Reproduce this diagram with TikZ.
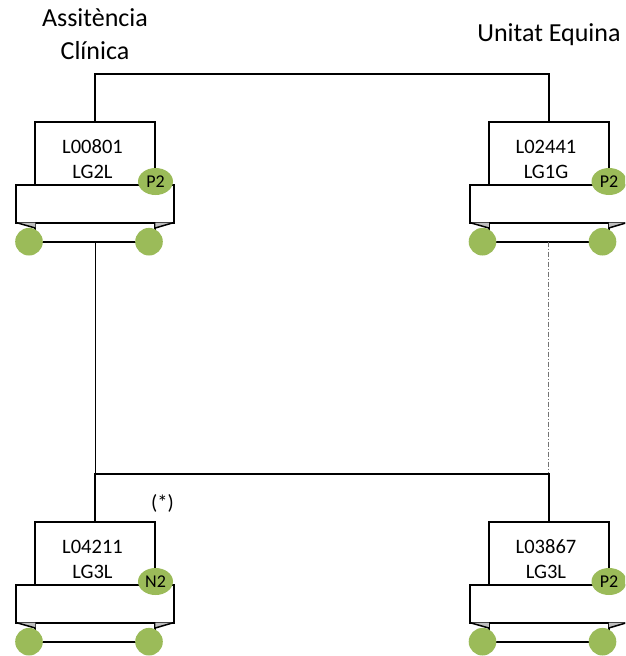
\documentclass[tikz,border=0pt]{standalone}
\usepackage{fontspec}
\setmainfont{Carlito}
\usetikzlibrary{shapes.geometric}
\definecolor{wheelgreen}{RGB}{155,187,89}
\definecolor{bevelgray}{RGB}{190,190,190}
\tikzset{
  boxline/.style={draw=black, line width=2pt, fill=white, rectangle, inner sep=0pt, outer sep=0pt},
  upperbox/.style={boxline, minimum width=120pt, minimum height=63pt},
  widebox/.style={boxline, minimum width=158pt, minimum height=37.5pt},
  lowerbox/.style={boxline, minimum width=120pt, minimum height=19.2pt},
  bevel/.style={fill=bevelgray},
  outline/.style={draw=black, line width=1.5pt},
  wheel/.style={circle, fill=wheelgreen, draw=none, minimum size=27.6pt, inner sep=0pt},
  tagmark/.style={ellipse, fill=wheelgreen, draw=none, minimum width=35pt, minimum height=27pt, inner sep=0pt, font=\fontsize{18}{20}\selectfont},
  boxtext/.style={anchor=base, inner sep=0pt, font=\fontsize{20.5}{25}\selectfont},
  titletext/.style={anchor=base, inner sep=0pt, font=\fontsize{26}{32}\selectfont},
  conn/.style={draw=black, line width=2.2pt},
  thinconn/.style={draw=black, line width=1pt},
  dashconn/.style={draw=black!55, line width=1.2pt, dash pattern=on 5pt off 2pt on 1pt off 2pt},
}
\newcommand\horsebox[6]{%
\begin{scope}[shift={(#2,#3)}]
  \node[widebox] (#1wide) at (95,203.75) {};
  \node[upperbox] (#1up) at (95.25,153.5) {};
  \node[lowerbox] (#1low) at (95.25,232.1) {};
  \fill[bevel] (16,222.5) -- (35.25,222.5) -- (35.25,228) -- cycle;
  \fill[bevel] (174,222.5) -- (155.25,222.5) -- (155.25,228) -- cycle;
  \draw[outline] (16,222.5) -- (35.25,228);
  \draw[outline] (174,222.5) -- (155.25,228);
  \node[wheel] (#1wl) at (29,241.7) {};
  \node[wheel] (#1wr) at (149,241.7) {};
  \node[tagmark] (#1tag) at (155.5,181.5) {#6};
  \node[boxtext] (#1la) at (92.5,153.3) {#4};
  \node[boxtext] (#1lb) at (92.5,178.3) {#5};
\end{scope}}
\begin{document}
\begin{tikzpicture}[x=1pt,y=-1pt]
\clip (0,0) rectangle (625,656);
\fill[white] (0,0) rectangle (625,656);
% titles
\node[titletext] (ta) at (95,26.7) {Assitència};
\node[titletext] (tb) at (95,59.3) {Clínica};
\node[titletext] (tc) at (549,41.7) {Unitat Equina};
% animals
\horsebox{tl}{0}{0}{L00801}{LG2L}{P2}
\horsebox{tr}{453.5}{0}{L02441}{LG1G}{P2}
\horsebox{bl}{0}{400}{L04211}{LG3L}{N2}
\horsebox{br}{453.5}{400}{L03867}{LG3L}{P2}
% connectors
\coordinate (tbar) at (95,74);
\coordinate (bbar) at (95,474);
\draw[conn] (tlup.north) -- (tlup.north |- tbar) -| (trup.north);
\draw[thinconn] (tllow.south) -- (tllow.south |- bbar);
\draw[dashconn] (trlow.south) -- (trlow.south |- bbar);
\draw[conn] (blup.north) -- (blup.north |- bbar) -| (brup.north);
\node[boxtext] (star) at (162.5,509) {(*)};
\end{tikzpicture}
\end{document}
